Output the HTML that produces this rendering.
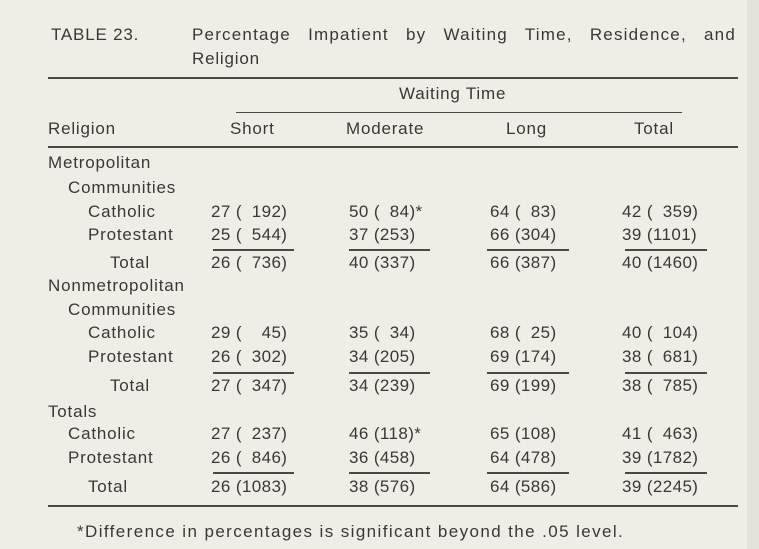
<!DOCTYPE html>
<html><head><meta charset="utf-8">
<style>
html,body{margin:0;padding:0;}
body{width:759px;height:549px;background:#efeee6;position:relative;overflow:hidden;font-family:"Liberation Sans",sans-serif;color:#3a3836;}
.t{position:absolute;font-size:17px;line-height:20px;height:20px;white-space:pre;letter-spacing:0.8px;}
.c{letter-spacing:0.4px;}
.r{position:absolute;height:1.5px;background:#4a4744;}
.edge{position:absolute;left:747px;top:0;width:12px;height:549px;background:#e4e2da;}
</style></head><body>
<div class="edge"></div>
<div class="t" style="left:51px;top:25px">TABLE 23.</div>
<div class="t" style="left:192px;top:25px;width:544px;text-align:justify;text-align-last:justify;letter-spacing:1.2px;white-space:normal">Percentage Impatient by Waiting Time, Residence, and</div>
<div class="t" style="left:192px;top:49px">Religion</div>
<div class="r" style="left:48px;top:77px;width:690px"></div>
<div class="t" style="left:399px;top:84px">Waiting Time</div>
<div class="r" style="left:236px;top:112px;width:446px;height:1px"></div>
<div class="t" style="left:48px;top:119px">Religion</div>
<div class="t" style="left:230px;top:119px">Short</div>
<div class="t" style="left:346px;top:119px">Moderate</div>
<div class="t" style="left:506px;top:119px">Long</div>
<div class="t" style="left:634px;top:119px">Total</div>
<div class="r" style="left:48px;top:146px;width:690px"></div>

<div class="t" style="left:48px;top:153px">Metropolitan</div>
<div class="t" style="left:68px;top:178px">Communities</div>
<div class="t" style="left:88px;top:202px">Catholic</div>
<div class="t c" style="left:211px;top:202px">27 (&#8199;192)</div>
<div class="t c" style="left:349px;top:202px">50 (&#8199;84)*</div>
<div class="t c" style="left:490px;top:202px">64 (&#8199;83)</div>
<div class="t c" style="left:622px;top:202px">42 (&#8199;359)</div>
<div class="t" style="left:88px;top:225px">Protestant</div>
<div class="t c" style="left:211px;top:225px">25 (&#8199;544)</div>
<div class="t c" style="left:349px;top:225px">37 (253)</div>
<div class="t c" style="left:490px;top:225px">66 (304)</div>
<div class="t c" style="left:622px;top:225px">39 (1101)</div>
<div class="r" style="left:213px;top:249px;width:81px"></div>
<div class="r" style="left:349px;top:249px;width:81px"></div>
<div class="r" style="left:487px;top:249px;width:82px"></div>
<div class="r" style="left:625px;top:249px;width:82px"></div>
<div class="t" style="left:110px;top:253px">Total</div>
<div class="t c" style="left:211px;top:253px">26 (&#8199;736)</div>
<div class="t c" style="left:349px;top:253px">40 (337)</div>
<div class="t c" style="left:490px;top:253px">66 (387)</div>
<div class="t c" style="left:622px;top:253px">40 (1460)</div>

<div class="t" style="left:48px;top:276px">Nonmetropolitan</div>
<div class="t" style="left:68px;top:300px">Communities</div>
<div class="t" style="left:88px;top:323px">Catholic</div>
<div class="t c" style="left:211px;top:323px">29 (&#8199;&#8199;45)</div>
<div class="t c" style="left:349px;top:323px">35 (&#8199;34)</div>
<div class="t c" style="left:490px;top:323px">68 (&#8199;25)</div>
<div class="t c" style="left:622px;top:323px">40 (&#8199;104)</div>
<div class="t" style="left:88px;top:347px">Protestant</div>
<div class="t c" style="left:211px;top:347px">26 (&#8199;302)</div>
<div class="t c" style="left:349px;top:347px">34 (205)</div>
<div class="t c" style="left:490px;top:347px">69 (174)</div>
<div class="t c" style="left:622px;top:347px">38 (&#8199;681)</div>
<div class="r" style="left:213px;top:372px;width:81px"></div>
<div class="r" style="left:349px;top:372px;width:81px"></div>
<div class="r" style="left:487px;top:372px;width:82px"></div>
<div class="r" style="left:625px;top:372px;width:82px"></div>
<div class="t" style="left:110px;top:376px">Total</div>
<div class="t c" style="left:211px;top:376px">27 (&#8199;347)</div>
<div class="t c" style="left:349px;top:376px">34 (239)</div>
<div class="t c" style="left:490px;top:376px">69 (199)</div>
<div class="t c" style="left:622px;top:376px">38 (&#8199;785)</div>

<div class="t" style="left:48px;top:402px">Totals</div>
<div class="t" style="left:68px;top:424px">Catholic</div>
<div class="t c" style="left:211px;top:424px">27 (&#8199;237)</div>
<div class="t c" style="left:349px;top:424px">46 (118)*</div>
<div class="t c" style="left:490px;top:424px">65 (108)</div>
<div class="t c" style="left:622px;top:424px">41 (&#8199;463)</div>
<div class="t" style="left:68px;top:448px">Protestant</div>
<div class="t c" style="left:211px;top:448px">26 (&#8199;846)</div>
<div class="t c" style="left:349px;top:448px">36 (458)</div>
<div class="t c" style="left:490px;top:448px">64 (478)</div>
<div class="t c" style="left:622px;top:448px">39 (1782)</div>
<div class="r" style="left:213px;top:472px;width:81px"></div>
<div class="r" style="left:349px;top:472px;width:81px"></div>
<div class="r" style="left:487px;top:472px;width:82px"></div>
<div class="r" style="left:625px;top:472px;width:82px"></div>
<div class="t" style="left:88px;top:477px">Total</div>
<div class="t c" style="left:211px;top:477px">26 (1083)</div>
<div class="t c" style="left:349px;top:477px">38 (576)</div>
<div class="t c" style="left:490px;top:477px">64 (586)</div>
<div class="t c" style="left:622px;top:477px">39 (2245)</div>
<div class="r" style="left:48px;top:505px;width:690px"></div>
<div class="t" style="left:77px;top:522px;letter-spacing:1.4px">*Difference in percentages is significant beyond the .05 level.</div>
</body></html>
